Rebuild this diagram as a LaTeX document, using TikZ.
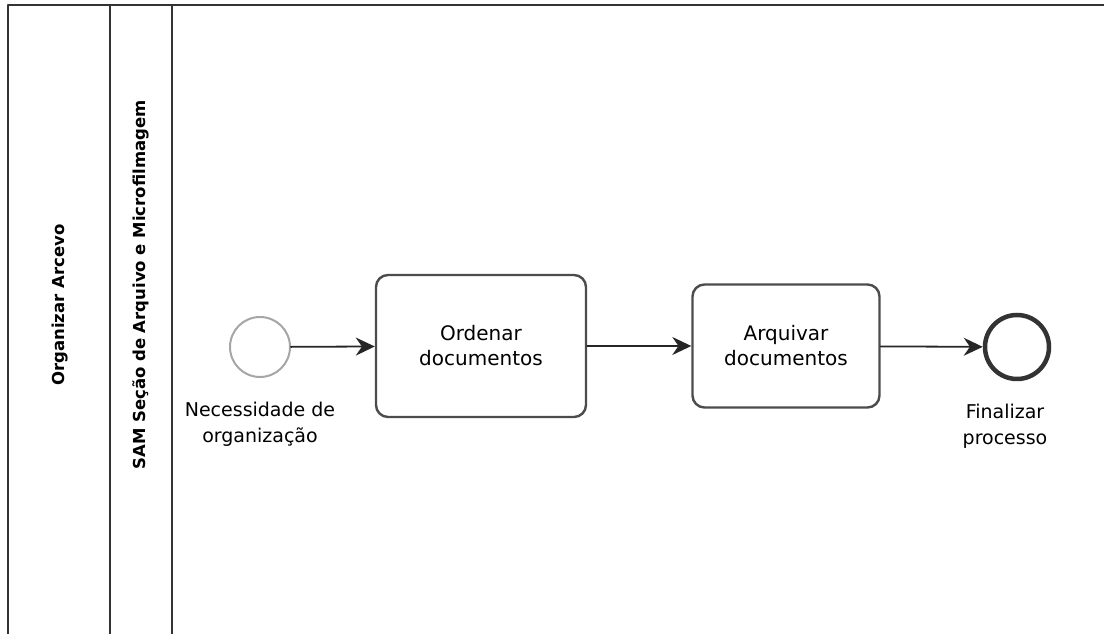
\documentclass[tikz,border=0pt]{standalone}
\usepackage{fontspec}
\setmainfont{DejaVu Sans}
\usetikzlibrary{positioning,arrows.meta}
\begin{document}
\begin{tikzpicture}[x=1pt,y=1pt,line cap=round,line join=round,
    lane/.style={draw=black!80,line width=1.2pt},
    lanetext/.style={rotate=90,font=\bfseries\fontsize{16.5}{20}\selectfont},
    tarefa/.style={draw=black!70,line width=2.4pt,rounded corners=12pt,fill=white,
      align=center,font=\fontsize{20}{25}\selectfont},
    evento/.style={circle,draw=black!35,line width=2pt,minimum size=60pt,inner sep=0pt},
    eventofim/.style={circle,draw=black!80,line width=4.5pt,minimum size=64pt,inner sep=0pt},
    rotulo/.style={align=center,font=\fontsize{19}{26}\selectfont},
    fluxo/.style={-{Stealth[length=19pt,width=18pt]},line width=1.8pt,draw=black!85}]
  \useasboundingbox (0,0) rectangle (1104,634);
  % raias
  \draw[lane] (1104,629) -- (8,629) -- (8,0);
  \draw[lane] (110,629) -- (110,0);
  \draw[lane] (172,629) -- (172,0);
  \node[lanetext] (pool) at (60,329) {Organizar Arcevo};
  \node[lanetext] (raia) at (141,349) {SAM Seção de Arquivo e Microfilmagem};
  % eventos e tarefas
  \node[evento] (inicio) at (260,287) {};
  \node[tarefa,minimum width=210pt,minimum height=142pt] (ordenar) at (481,288) {Ordenar\\documentos};
  \node[tarefa,minimum width=187pt,minimum height=123pt] (arquivar) at (786,288) {Arquivar\\documentos};
  \node[eventofim] (fim) at (1017,287) {};
  \node[rotulo,below=21pt of inicio] (rinicio) {Necessidade de\\organização};
  \node[rotulo,below=19pt of fim,xshift=-12pt] (rfim) {Finalizar\\processo};
  % fluxos
  \draw[fluxo] (inicio) -- (ordenar);
  \draw[fluxo] (ordenar) -- (arquivar);
  \draw[fluxo] (arquivar) -- (fim);
\end{tikzpicture}
\end{document}
